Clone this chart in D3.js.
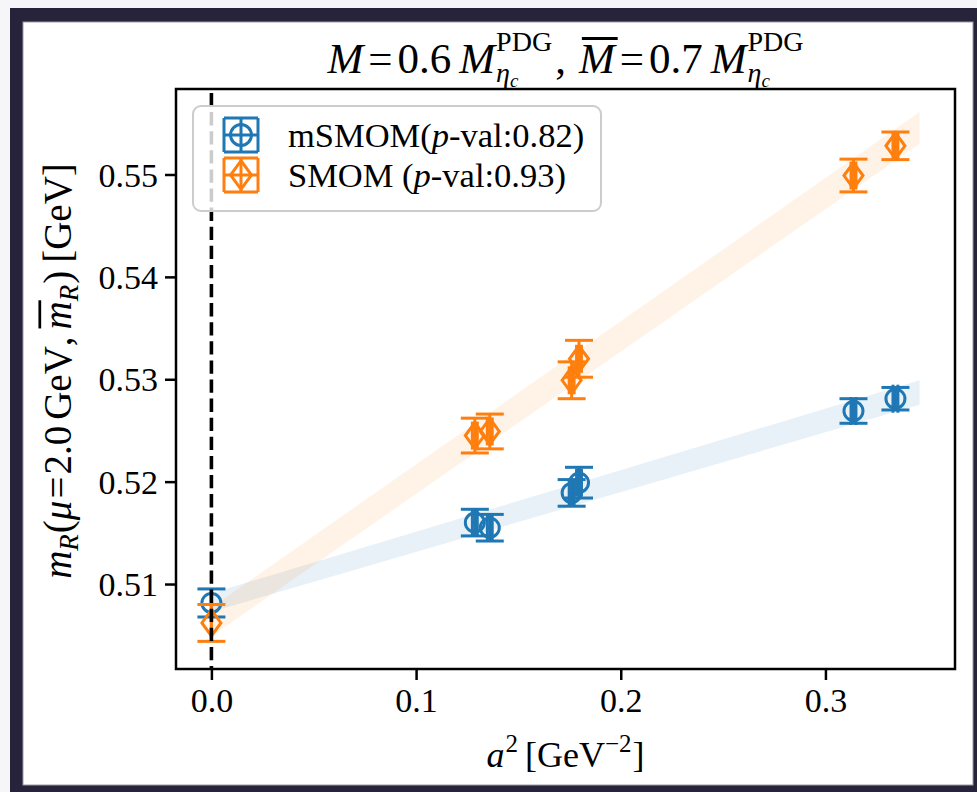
<!DOCTYPE html>
<html>
<head>
<meta charset="utf-8">
<script src="https://cdn.jsdelivr.net/npm/d3@7"></script>
<style>
  html, body { margin: 0; padding: 0; background: #f6f6f9; }
  svg { display: block; }
</style>
</head>
<body>
<svg id="chart" width="977" height="792"></svg>
<script>
// ---------------- data ----------------
const a2Values     = [0, 0.1287, 0.1360, 0.1760, 0.1796, 0.3137, 0.3342];
const a2Errors     = [0, 0.0012, 0.0012, 0.0012, 0.0012, 0.0012, 0.0012];
const mSMOMValues  = [0.50815, 0.5160, 0.5155, 0.5189, 0.5199, 0.5269, 0.5281];
const mSMOMErrors  = [0.00137, 0.0013, 0.0013, 0.0013, 0.0015, 0.0012, 0.0011];
const SMOMValues   = [0.5062, 0.5245, 0.5249, 0.5299, 0.5320, 0.5499, 0.5528];
const SMOMErrors   = [0.0018, 0.0017, 0.0017, 0.0018, 0.0018, 0.0016, 0.00135];
const bandX        = [0, 0.346];
const mSMOMBandLo  = [0.5073, 0.5275];
const mSMOMBandHi  = [0.5091, 0.5299];
const SMOMBandLo   = [0.5049, 0.5530];
const SMOMBandHi   = [0.5077, 0.5561];
const xTickValues  = [0, 0.1, 0.2, 0.3];
const xTickLabels  = ["0.0", "0.1", "0.2", "0.3"];
const yTickValues  = [0.51, 0.52, 0.53, 0.54, 0.55];
const yTickLabels  = ["0.51", "0.52", "0.53", "0.54", "0.55"];
const seriesNames  = ["mSMOM", "SMOM"];
const legendPVals  = ["0.82", "0.93"];

// ---------------- layout ----------------
const SERIF = "'Liberation Serif', 'DejaVu Serif', serif";
const BLUE = "#1f77b4", ORANGE = "#ff7f0e";
const plot = { left: 176, right: 955, top: 89, bottom: 669 };
const svg = d3.select("#chart");

// outer dark frame
svg.append("rect").attr("x", 10).attr("y", 8).attr("width", 980).attr("height", 800).attr("fill", "#26233a");
svg.append("rect").attr("x", 23).attr("y", 22).attr("width", 950).attr("height", 763)
   .attr("fill", "#ffffff").attr("stroke", "#9c9aa8").attr("stroke-width", 1);

const x = d3.scaleLinear().domain([-0.0173, 0.3633]).range([plot.left, plot.right]);
const y = d3.scaleLinear().domain([0.5017, 0.55835]).range([plot.bottom, plot.top]);

svg.append("clipPath").attr("id", "clip").append("rect")
  .attr("x", plot.left).attr("y", plot.top)
  .attr("width", plot.right - plot.left).attr("height", plot.bottom - plot.top);

const gPlot = svg.append("g").attr("clip-path", "url(#clip)");

// bands
function band(lo, hi, color) {
  const area = d3.area().x((d, i) => x(bandX[i])).y0((d, i) => y(lo[i])).y1((d, i) => y(hi[i]));
  gPlot.append("path").datum(bandX).attr("d", area).attr("fill", color).attr("fill-opacity", 0.1);
}
band(mSMOMBandLo, mSMOMBandHi, BLUE);
band(SMOMBandLo, SMOMBandHi, ORANGE);

// error bars + markers
const CAP = 14;
function marker(g, type, cx, cy, color, scale) {
  const k = scale || 1;
  if (type === "circle") {
    g.append("circle").attr("cx", cx).attr("cy", cy).attr("r", 9.5 * k)
      .attr("fill", "none").attr("stroke", color).attr("stroke-width", 3);
  } else {
    g.append("path").attr("d", `M${cx},${cy-13*k} L${cx+9.5*k},${cy} L${cx},${cy+13*k} L${cx-9.5*k},${cy} Z`)
      .attr("fill", "none").attr("stroke", color).attr("stroke-width", 3).attr("stroke-linejoin", "miter");
  }
}
function series(vals, errs, color, type) {
  const g = gPlot.append("g").attr("stroke", color).attr("stroke-width", 3);
  a2Values.forEach((xv, i) => {
    const cx = x(xv), cy = y(vals[i]);
    const yt = y(vals[i] + errs[i]), yb = y(vals[i] - errs[i]);
    const xl = x(xv - a2Errors[i]), xr = x(xv + a2Errors[i]);
    g.append("line").attr("x1", cx).attr("x2", cx).attr("y1", yt).attr("y2", yb);
    g.append("line").attr("x1", cx - CAP).attr("x2", cx + CAP).attr("y1", yt).attr("y2", yt);
    g.append("line").attr("x1", cx - CAP).attr("x2", cx + CAP).attr("y1", yb).attr("y2", yb);
    g.append("line").attr("x1", xl).attr("x2", xr).attr("y1", cy).attr("y2", cy);
    g.append("line").attr("x1", xl).attr("x2", xl).attr("y1", cy - CAP).attr("y2", cy + CAP);
    g.append("line").attr("x1", xr).attr("x2", xr).attr("y1", cy - CAP).attr("y2", cy + CAP);
    marker(g, type, cx, cy, color);
  });
}
series(mSMOMValues, mSMOMErrors, BLUE, "circle");
series(SMOMValues, SMOMErrors, ORANGE, "diamond");

// dashed vertical line at a^2 = 0
gPlot.append("line").attr("x1", x(0)).attr("x2", x(0)).attr("y1", plot.top + 4).attr("y2", plot.bottom)
  .attr("stroke", "#000").attr("stroke-width", 3.6).attr("stroke-dasharray", "13.3,5.8");

// axes
const xAxis = d3.axisBottom(x).tickValues(xTickValues).tickFormat((d, i) => xTickLabels[i]).tickSize(11).tickSizeOuter(0).tickPadding(8);
const yAxis = d3.axisLeft(y).tickValues(yTickValues).tickFormat((d, i) => yTickLabels[i]).tickSize(11).tickSizeOuter(0).tickPadding(7);
const gx = svg.append("g").attr("transform", `translate(0,${plot.bottom})`).call(xAxis);
const gy = svg.append("g").attr("transform", `translate(${plot.left},0)`).call(yAxis);
[gx, gy].forEach(g => {
  g.select(".domain").remove();
  g.selectAll(".tick line").attr("stroke", "#000").attr("stroke-width", 2.5);
  g.selectAll(".tick text").attr("font-family", SERIF).attr("font-size", 34).attr("fill", "#000");
});
gy.selectAll(".tick text").attr("dy", "0.34em");

svg.append("rect").attr("x", plot.left).attr("y", plot.top)
  .attr("width", plot.right - plot.left).attr("height", plot.bottom - plot.top)
  .attr("fill", "none").attr("stroke", "#000").attr("stroke-width", 2.5);

// rich text helper
function rich(parent, runs, cx, baseline, rotate) {
  const g = parent.append("g");
  const inner = g.append("g");
  let xpos = 0, markX = 0, maxX = 0;
  runs.forEach(r => {
    const s = r.s || 36;
    if (r.mark) markX = xpos + (r.pre || 0);
    if (r.back) { maxX = Math.max(maxX, xpos); xpos = markX; }
    else xpos += (r.pre || 0);
    const t = inner.append("text").text(r.t).attr("x", xpos).attr("y", r.dy || 0)
      .attr("font-family", SERIF).attr("font-size", s)
      .attr("font-style", r.i ? "italic" : "normal").attr("fill", "#000");
    const w = t.node().getComputedTextLength();
    if (r.over) {
      inner.append("line").attr("x1", xpos + (r.overShift || 0)).attr("x2", xpos + w + (r.overShift || 0))
        .attr("y1", (r.dy || 0) - s * 0.8).attr("y2", (r.dy || 0) - s * 0.8)
        .attr("stroke", "#000").attr("stroke-width", s * 0.07);
    }
    xpos += w + (r.post || 0);
    if (r.end) { xpos = Math.max(xpos, maxX); maxX = 0; }
  });
  inner.attr("transform", `translate(${-xpos / 2},0)`);
  g.attr("transform", `translate(${cx},${baseline})` + (rotate ? ` rotate(${rotate})` : ""));
  return g;
}

// title
const T = 43, TS = 28, TSS = 19;
rich(svg, [
  { t: "M", i: true, s: T },
  { t: "=", s: T, pre: 5, post: 5 },
  { t: "0.6", s: T },
  { t: "M", i: true, s: T, pre: 8 },
  { t: "PDG", s: TS, dy: -22, mark: true, pre: 1 },
  { t: "η", i: true, s: TS, dy: 9, back: true },
  { t: "c", i: true, s: TSS, dy: 14, end: true },
  { t: ",", s: T, pre: 3 },
  { t: "M", i: true, s: T, pre: 13, over: true, overShift: 3 },
  { t: "=", s: T, pre: 5, post: 5 },
  { t: "0.7", s: T },
  { t: "M", i: true, s: T, pre: 8 },
  { t: "PDG", s: TS, dy: -22, mark: true, pre: 1 },
  { t: "η", i: true, s: TS, dy: 9, back: true },
  { t: "c", i: true, s: TSS, dy: 14, end: true }
], (plot.left + plot.right) / 2, 73);

// y label
const L = 39, LS = 27;
rich(svg, [
  { t: "m", i: true, s: L },
  { t: "R", i: true, s: LS, dy: 7 },
  { t: "(", s: L, pre: 1 },
  { t: "μ", i: true, s: L },
  { t: "=", s: L, pre: 2, post: 2 },
  { t: "2.0", s: L },
  { t: "GeV", s: L, pre: 6 },
  { t: ",", s: L },
  { t: "m", i: true, s: L, pre: 7, over: true, overShift: 1 },
  { t: "R", i: true, s: LS, dy: 7 },
  { t: ")", s: L, pre: 1 },
  { t: "[GeV]", s: L, pre: 8 }
], 71, (plot.top + plot.bottom) / 2 - 8, -90);

// x label
rich(svg, [
  { t: "a", i: true, s: 36 },
  { t: "2", s: 25, dy: -15, pre: 1 },
  { t: "[GeV", s: 36, pre: 7 },
  { t: "−2", s: 25, dy: -15 },
  { t: "]", s: 36, pre: 1 }
], (plot.left + plot.right) / 2, 767);

// legend
const leg = svg.append("g");
leg.append("rect").attr("x", 193).attr("y", 106).attr("width", 408).attr("height", 105)
  .attr("rx", 8).attr("fill", "#fff").attr("fill-opacity", 0.8)
  .attr("stroke", "#cccccc").attr("stroke-width", 2);
const legRows = [
  { name: seriesNames[0], p: legendPVals[0], color: BLUE, type: "circle", cy: 135, sep: "" },
  { name: seriesNames[1], p: legendPVals[1], color: ORANGE, type: "diamond", cy: 175, sep: " " }
];
legRows.forEach(r => {
  const g = leg.append("g").attr("stroke", r.color).attr("stroke-width", 3);
  const cx = 241, H = 17;
  g.append("line").attr("x1", cx).attr("x2", cx).attr("y1", r.cy - H).attr("y2", r.cy + H);
  g.append("line").attr("x1", cx - H).attr("x2", cx + H).attr("y1", r.cy - H).attr("y2", r.cy - H);
  g.append("line").attr("x1", cx - H).attr("x2", cx + H).attr("y1", r.cy + H).attr("y2", r.cy + H);
  g.append("line").attr("x1", cx - H).attr("x2", cx + H).attr("y1", r.cy).attr("y2", r.cy);
  g.append("line").attr("x1", cx - H).attr("x2", cx - H).attr("y1", r.cy - H).attr("y2", r.cy + H);
  g.append("line").attr("x1", cx + H).attr("x2", cx + H).attr("y1", r.cy - H).attr("y2", r.cy + H);
  marker(g, r.type, cx, r.cy, r.color, 1.1);
  const t = leg.append("text").attr("x", 288).attr("y", r.cy + 12)
    .attr("font-family", SERIF).attr("font-size", 34.5).attr("fill", "#000");
  t.append("tspan").text(r.name + r.sep + "(");
  t.append("tspan").attr("font-style", "italic").text("p");
  t.append("tspan").text("-val:" + r.p + ")");
});
</script>
</body>
</html>
